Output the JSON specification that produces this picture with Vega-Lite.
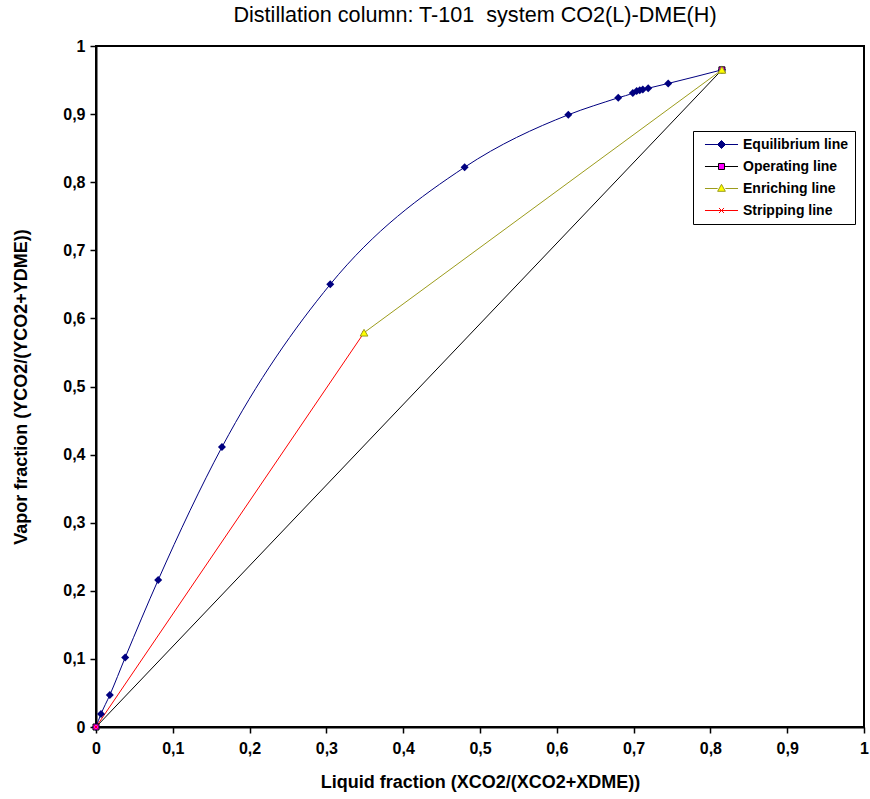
{
  "$schema": "https://vega.github.io/schema/vega-lite/v6.json",
  "width": 768,
  "height": 681,
  "autosize": {"type": "none"},
  "padding": {"left": 96, "top": 46, "right": 6, "bottom": 72},
  "background": "white",
  "title": {
    "text": "Distillation column: T-101\u00a0 system CO2(L)-DME(H)",
    "font": "Liberation Sans",
    "fontSize": 21.6,
    "fontWeight": "normal",
    "color": "black",
    "anchor": "middle",
    "dx": -5,
    "offset": 11
  },
  "config": {
    "view": {"stroke": "black", "strokeWidth": 2},
    "axis": {
      "grid": false,
      "domainColor": "black",
      "domainWidth": 2,
      "tickColor": "black",
      "tickWidth": 1.5,
      "tickSize": 6,
      "labelFont": "Liberation Sans",
      "labelFontSize": 16,
      "labelFontWeight": "bold",
      "labelColor": "black",
      "labelFlush": false,
      "labelOverlap": false,
      "titleFont": "Liberation Sans",
      "titleFontSize": 18,
      "titleFontWeight": "bold",
      "titleColor": "black"
    }
  },
  "data": {
    "values": [
      {"series": "Equilibrium line", "x": 0.0, "y": 0.0},
      {"series": "Equilibrium line", "x": 0.0065, "y": 0.019},
      {"series": "Equilibrium line", "x": 0.018, "y": 0.047},
      {"series": "Equilibrium line", "x": 0.038, "y": 0.102},
      {"series": "Equilibrium line", "x": 0.081, "y": 0.216},
      {"series": "Equilibrium line", "x": 0.164, "y": 0.411},
      {"series": "Equilibrium line", "x": 0.305, "y": 0.65},
      {"series": "Equilibrium line", "x": 0.48, "y": 0.822},
      {"series": "Equilibrium line", "x": 0.615, "y": 0.899},
      {"series": "Equilibrium line", "x": 0.68, "y": 0.924},
      {"series": "Equilibrium line", "x": 0.699, "y": 0.931},
      {"series": "Equilibrium line", "x": 0.704, "y": 0.934},
      {"series": "Equilibrium line", "x": 0.708, "y": 0.935},
      {"series": "Equilibrium line", "x": 0.712, "y": 0.936},
      {"series": "Equilibrium line", "x": 0.719, "y": 0.938},
      {"series": "Equilibrium line", "x": 0.745, "y": 0.945},
      {"series": "Equilibrium line", "x": 0.815, "y": 0.965},
      {"series": "Operating line", "x": 0.0, "y": 0.0},
      {"series": "Operating line", "x": 0.815, "y": 0.965},
      {"series": "Stripping line", "x": 0.0, "y": 0.0},
      {"series": "Stripping line", "x": 0.349, "y": 0.579},
      {"series": "Enriching line", "x": 0.349, "y": 0.579},
      {"series": "Enriching line", "x": 0.815, "y": 0.965}
    ]
  },
  "encoding": {
    "x": {
      "field": "x",
      "type": "quantitative",
      "scale": {"domain": [0, 1], "nice": false},
      "axis": {
        "title": "Liquid fraction (XCO2/(XCO2+XDME))",
        "values": [0, 0.1, 0.2, 0.3, 0.4, 0.5, 0.6, 0.7, 0.8, 0.9, 1],
        "format": "~g",
        "labelExpr": "replace(datum.label, '.', ',')",
        "labelPadding": 7,
        "titlePadding": 17
      }
    },
    "y": {
      "field": "y",
      "type": "quantitative",
      "scale": {"domain": [0, 1], "nice": false},
      "axis": {
        "title": "Vapor fraction (YCO2/(YCO2+YDME))",
        "values": [0, 0.1, 0.2, 0.3, 0.4, 0.5, 0.6, 0.7, 0.8, 0.9, 1],
        "format": "~g",
        "labelExpr": "replace(datum.label, '.', ',')",
        "labelPadding": 5,
        "titlePadding": 32
      }
    }
  },
  "layer": [
    {
      "mark": {"type": "line", "interpolate": "monotone", "strokeWidth": 1},
      "encoding": {
        "color": {
          "field": "series",
          "type": "nominal",
          "scale": {
            "domain": ["Equilibrium line", "Operating line", "Enriching line", "Stripping line"],
            "range": ["#000080", "#000000", "#9c9c1c", "#ff0000"]
          },
          "legend": {
            "title": null,
            "orient": "none",
            "legendX": 597,
            "legendY": 85,
            "padding": 6,
            "fillColor": "white",
            "strokeColor": "black",
            "cornerRadius": 0,
            "symbolSize": 196,
            "symbolStrokeWidth": 1,
            "symbolOffset": 15,
            "labelOffset": 14,
            "rowPadding": 7,
            "labelFont": "Liberation Sans",
            "labelFontSize": 14,
            "labelFontWeight": "bold",
            "labelColor": "black",
            "labelLimit": 300,
            "encode": {
              "symbols": {
                "update": {
                  "shape": {"signal": "datum.value === 'Equilibrium line' ? 'M-2.36,0H2.36M-0.57,0L0,-0.57L0.57,0L0,0.57Z' : datum.value === 'Operating line' ? 'M-2.36,0H-0.43M0.43,0H2.36M-0.43,-0.43H0.43V0.43H-0.43Z' : datum.value === 'Enriching line' ? 'M-2.36,0H-0.55M0.55,0H2.36M0,-0.6L0.55,0.4H-0.55Z' : 'M-2.36,0H2.36M-0.36,-0.36L0.36,0.36M-0.36,0.36L0.36,-0.36'"},
                  "fill": {"signal": "datum.value === 'Equilibrium line' ? '#000080' : datum.value === 'Operating line' ? '#ff00ff' : datum.value === 'Enriching line' ? '#ffff00' : 'transparent'"}
                }
              }
            }
          }
        }
      }
    },
    {
      "transform": [{"filter": "datum.series === 'Equilibrium line'"}],
      "mark": {"type": "point", "shape": "diamond", "filled": true, "color": "#000080", "opacity": 1, "size": 64}
    },
    {
      "transform": [{"filter": "datum.series === 'Operating line'"}],
      "mark": {"type": "point", "shape": "square", "fill": "#ff00ff", "stroke": "#000000", "strokeWidth": 1, "opacity": 1, "size": 36}
    },
    {
      "transform": [{"filter": "datum.series === 'Stripping line'"}],
      "mark": {"type": "point", "shape": "M-1,-1L1,1M-1,1L1,-1", "filled": false, "stroke": "#ff0000", "strokeWidth": 1, "opacity": 1, "size": 12}
    },
    {
      "transform": [{"filter": "datum.series === 'Enriching line'"}],
      "mark": {"type": "point", "shape": "triangle-up", "fill": "#ffff00", "stroke": "#9c9c1c", "strokeWidth": 1, "opacity": 1, "size": 60}
    }
  ]
}
